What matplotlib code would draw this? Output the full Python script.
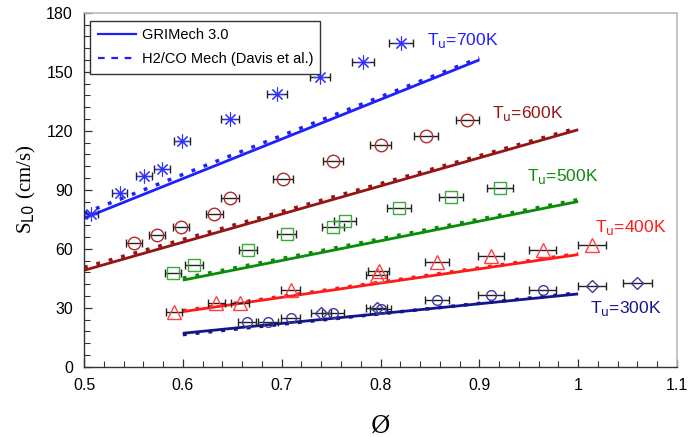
import matplotlib
matplotlib.use("Agg")
import matplotlib.pyplot as plt
from matplotlib.lines import Line2D
from matplotlib.ticker import MultipleLocator

# ---------------- data ----------------
phi_700 = [0.507, 0.536, 0.561, 0.579, 0.599, 0.648, 0.695, 0.739, 0.782, 0.821]
s_700 = [77.4, 88.3, 97.1, 100.5, 114.6, 126.2, 138.6, 147.5, 154.9, 164.4]
err_700 = [0.007, 0.008, 0.008, 0.008, 0.008, 0.009, 0.010, 0.010, 0.011, 0.012]

phi_600 = [0.551, 0.574, 0.598, 0.632, 0.648, 0.701, 0.752, 0.800, 0.846, 0.888]
s_600 = [62.7, 67.0, 70.9, 77.4, 85.8, 95.6, 104.7, 112.5, 117.1, 125.5]
err_600 = [0.008, 0.008, 0.008, 0.009, 0.009, 0.010, 0.010, 0.011, 0.012, 0.012]

phi_500 = [0.590, 0.611, 0.666, 0.705, 0.752, 0.764, 0.819, 0.871, 0.921]
s_500 = [47.7, 51.8, 59.2, 67.7, 70.9, 74.3, 80.8, 86.3, 91.0]
err_500 = [0.008, 0.009, 0.009, 0.010, 0.011, 0.011, 0.012, 0.012, 0.013]

phi_400 = [0.591, 0.634, 0.658, 0.709, 0.796, 0.798, 0.857, 0.912, 0.964, 1.014]
s_400 = [28.0, 32.6, 32.2, 38.9, 46.5, 48.7, 53.3, 56.4, 59.5, 62.0]
err_400 = [0.008, 0.009, 0.009, 0.010, 0.011, 0.011, 0.012, 0.013, 0.014, 0.014]

phi_300_o = [0.665, 0.686, 0.709, 0.752, 0.800, 0.857, 0.912, 0.964]
s_300_o = [22.7, 22.7, 24.9, 27.5, 29.5, 33.8, 36.5, 38.9]
err_300_o = [0.009, 0.010, 0.010, 0.011, 0.011, 0.012, 0.013, 0.014]
phi_300_d = [0.740, 0.796, 1.014, 1.060]
s_300_d = [27.5, 29.8, 41.1, 42.4]
err_300_d = [0.010, 0.011, 0.014, 0.015]

# model lines (GRIMech 3.0 solid, H2/CO Mech dotted)
gri_phi = {"700": [0.5, 0.9], "600": [0.5, 1.0], "500": [0.6, 1.0], "400": [0.6, 1.0], "300": [0.6, 1.0]}
gri_s = {"700": [75.5, 156.0], "600": [49.0, 120.5], "500": [44.0, 84.0], "400": [28.0, 57.0], "300": [17.0, 37.0]}
dav_s = {"700": [78.0, 157.0], "600": [50.5, 121.5], "500": [45.0, 85.0], "400": [28.5, 57.5], "300": [16.3, 37.5]}

x_ticks = [0.5, 0.6, 0.7, 0.8, 0.9, 1.0, 1.1]
x_ticklabels = ["0.5", "0.6", "0.7", "0.8", "0.9", "1", "1.1"]
y_ticks = [0, 30, 60, 90, 120, 150, 180]

labels = {"700": "700K", "600": "600K", "500": "500K", "400": "400K", "300": "300K"}
# --------------------------------------

line_col = {"700": "#1f1fff", "600": "#961414", "500": "#0a8c0a", "400": "#ff1a1a", "300": "#14148c"}
mark_col = {"700": "#3030ff", "600": "#b02a2a", "500": "#3aaa3a", "400": "#ff4040", "300": "#3a3aa0"}

fig = plt.figure(figsize=(6.9, 4.37), dpi=100)
ax = fig.add_axes([84 / 690, 70.3 / 437, 593 / 690, 354 / 437])

for k in ["700", "600", "500", "400", "300"]:
    ax.plot(gri_phi[k], gri_s[k], color=line_col[k], lw=2.0, solid_capstyle="butt", zorder=2)
    ax.plot(gri_phi[k], dav_s[k], color=line_col[k], lw=2.5, ls=(0, (1.1, 2.6)), zorder=2)

eb = dict(fmt="none", ecolor="#222222", elinewidth=1.0, capsize=3, capthick=1.0, zorder=3)
ax.errorbar(phi_700, s_700, xerr=err_700, **eb)
ax.errorbar(phi_600, s_600, xerr=err_600, **eb)
ax.errorbar(phi_500, s_500, xerr=err_500, **eb)
ax.errorbar(phi_400, s_400, xerr=err_400, **eb)
ax.errorbar(phi_300_o, s_300_o, xerr=err_300_o, **eb)
ax.errorbar(phi_300_d, s_300_d, xerr=err_300_d, **eb)

ax.plot(phi_700, s_700, ls="none", marker=(8, 2, 0), ms=10, mew=0.8, mec=mark_col["700"], zorder=4)
ax.plot(phi_600, s_600, ls="none", marker="o", ms=9, mfc="none", mew=1.0, mec=mark_col["600"], zorder=4)
ax.plot(phi_500, s_500, ls="none", marker="s", ms=9, mfc="none", mew=1.0, mec=mark_col["500"], zorder=4)
ax.plot(phi_400, s_400, ls="none", marker="^", ms=10, mfc="none", mew=1.0, mec=mark_col["400"], zorder=4)
ax.plot(phi_300_o, s_300_o, ls="none", marker="o", ms=7, mfc="none", mew=1.0, mec=mark_col["300"], zorder=4)
ax.plot(phi_300_d, s_300_d, ls="none", marker="D", ms=6.5, mfc="none", mew=1.0, mec=mark_col["300"], zorder=4)

lab_font = dict(family="Liberation Sans", fontsize=12.5, va="center", ha="left")
ax.text(0.847, 166.0, r"T$_\mathrm{u}$=" + labels["700"], color=line_col["700"], **lab_font)
ax.text(0.913, 129.0, r"T$_\mathrm{u}$=" + labels["600"], color=line_col["600"], **lab_font)
ax.text(0.948, 96.6, r"T$_\mathrm{u}$=" + labels["500"], color=line_col["500"], **lab_font)
ax.text(1.017, 71.0, r"T$_\mathrm{u}$=" + labels["400"], color=line_col["400"], **lab_font)
ax.text(1.012, 29.8, r"T$_\mathrm{u}$=" + labels["300"], color=line_col["300"], **lab_font)

ax.set_xlim(0.5, 1.1)
ax.set_ylim(0, 180)
ax.set_xticks(x_ticks)
ax.set_xticklabels(x_ticklabels)
ax.set_yticks(y_ticks)
ax.xaxis.set_minor_locator(MultipleLocator(0.02))
ax.yaxis.set_minor_locator(MultipleLocator(6))
ax.tick_params(which="both", direction="in", top=False, right=False, color="#333333")
ax.tick_params(which="major", length=6, width=0.9, pad=8, labelsize=11.5)
ax.tick_params(which="minor", length=4, width=0.8)
for lbl in ax.get_xticklabels() + ax.get_yticklabels():
    lbl.set_family("Liberation Sans")

for s in ["left", "bottom"]:
    ax.spines[s].set_color("#333333")
    ax.spines[s].set_linewidth(1.0)
for s in ["top", "right"]:
    ax.spines[s].set_color("#bbbbbb")
    ax.spines[s].set_linewidth(1.2)

ax.set_xlabel("Ø", family="DejaVu Serif", fontsize=17, labelpad=16)
ax.set_ylabel(r"S$_\mathrm{L0}$ (cm/s)", family="Liberation Serif", fontsize=15, labelpad=6)

handles = [Line2D([], [], color=line_col["700"], lw=1.6),
           Line2D([], [], color=line_col["700"], lw=1.6, ls=(0, (3, 3)))]
leg = ax.legend(handles, ["GRIMech 3.0", "H2/CO Mech (Davis et al.)"], loc="upper left",
                bbox_to_anchor=(0.006, 0.985), fancybox=False, framealpha=1, edgecolor="#333333",
                prop={"family": "Liberation Sans", "size": 10.5}, handlelength=2.6,
                borderpad=0.5, labelspacing=0.7, handletextpad=0.4, borderaxespad=0.2)
leg.get_frame().set_linewidth(1.0)

fig.savefig("out.png", dpi=100)
